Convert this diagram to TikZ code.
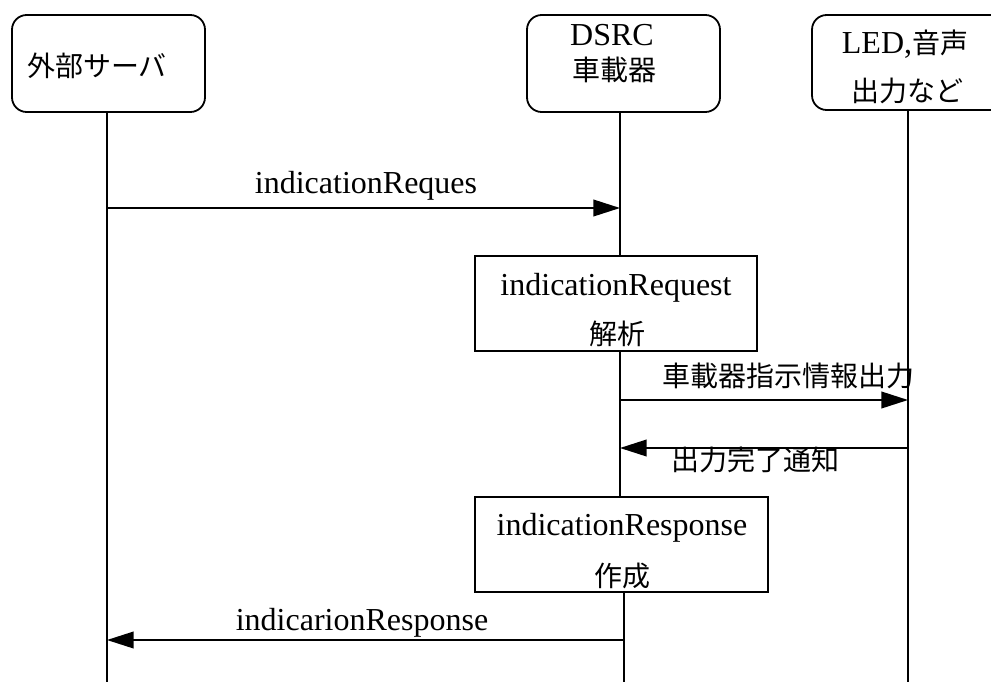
\documentclass[tikz,border=0pt]{standalone}
\usepackage{fontspec}
\setmainfont{Liberation Serif}
\newfontfamily\jp{Noto Sans CJK JP}
\usetikzlibrary{arrows.meta}
\begin{document}
\begin{tikzpicture}[x=0.75pt,y=-0.75pt,
  line width=1.35pt,
  actor/.style={draw, rounded corners=11pt, inner sep=0pt, minimum width=144.75pt, minimum height=72.75pt},
  procbox/.style={draw, fill=white, inner sep=0pt, minimum height=71.25pt},
  msg/.style={-{Triangle[length=20pt,width=12.5pt]}},
  lat/.style={font=\fontsize{24}{28}\selectfont, inner sep=0pt, anchor=base},
  cjk/.style={font=\jp\fontsize{21}{24}\selectfont, inner sep=0pt, anchor=base},
]
\useasboundingbox (0,0) rectangle (991,682);
% actor boxes
\node[actor] (ext) at (108.5,63.5) {};
\node[actor] (obu) at (623.5,63.5) {};
\node[actor, minimum height=71.25pt] (led) at (908.5,62.5) {};
% actor labels
\node[cjk] (extL) at (97,76) {外部サーバ};
\node[lat] (obuL1) at (612,45) {DSRC};
\node[cjk] (obuL2) at (614,80) {車載器};
\node[lat] (ledL1) at (905,53) {LED,{\jp\fontsize{21}{24}\selectfont 音声}};
\node[cjk] (ledL2) at (907,101) {出力など};
% process boxes
\node[procbox, minimum width=211.5pt] (req) at (616,303.5) {};
\node[lat] (reqL1) at (616,295) {indicationRequest};
\node[cjk] (reqL2) at (617,344) {解析};
\node[procbox, minimum width=219.75pt] (res) at (621.5,544.5) {};
\node[lat] (resL1) at (622,535) {indicationResponse};
\node[cjk] (resL2) at (622,586) {作成};
% lifeline coordinates
\coordinate (l1t) at (107,112);
\coordinate (l1b) at (107,682);
\coordinate (l2t) at (620,112);
\coordinate (l2a) at (620,256);
\coordinate (l2b) at (620,351);
\coordinate (l2c) at (620,497);
\coordinate (l2d) at (624,592);
\coordinate (l2e) at (624,682);
\coordinate (l3t) at (908,110);
\coordinate (l3b) at (908,682);
\draw (l1t) -- (l1b);
\draw (l2t) -- (l2a);
\draw (l2b) -- (l2c);
\draw (l2d) -- (l2e);
\draw (l3t) -- (l3b);
% message points
\coordinate (m1s) at (107,208);
\coordinate (m1e) at (620,208);
\coordinate (m2s) at (620,400);
\coordinate (m2e) at (908,400);
\coordinate (m3s) at (908,448);
\coordinate (m3e) at (620,448);
\coordinate (m4s) at (624,640);
\coordinate (m4e) at (107,640);
\draw[msg] (m1s) -- (m1e);
\draw[msg] (m2s) -- (m2e);
\draw[msg] (m3s) -- (m3e);
\draw[msg] (m4s) -- (m4e);
% message labels
\node[lat] (m1L) at (366,193) {indicationReques};
\node[cjk] (m2L) at (788,386) {車載器指示情報出力};
\node[cjk] (m3L) at (755,470) {出力完了通知};
\node[lat] (m4L) at (362,630) {indicarionResponse};
\end{tikzpicture}
\end{document}
